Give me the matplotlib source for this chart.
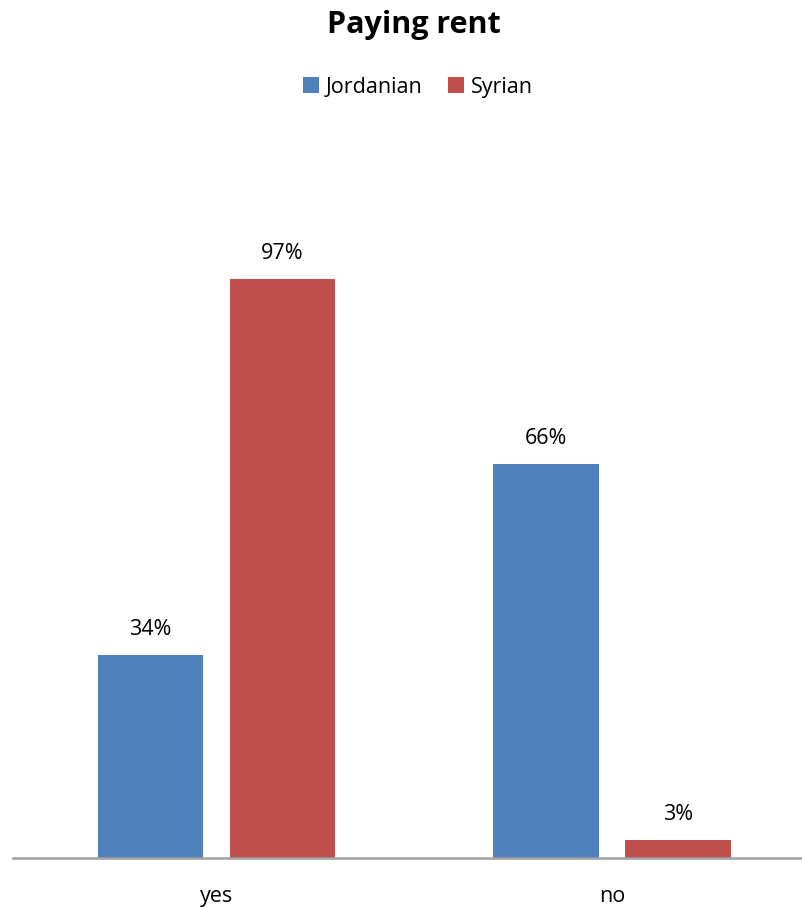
import numpy as np
import matplotlib
matplotlib.use("Agg")
import matplotlib.pyplot as plt
from matplotlib.patches import Patch

# ── Data ──────────────────────────────────────────────────────────────────────
categories = ["yes", "no"]
series_names = ["Jordanian", "Syrian"]
jordanian = [34, 66]
syrian = [97, 3]
colors = ["#4F81BD", "#C0504D"]

plt.rcParams["font.family"] = ["Open Sans", "DejaVu Sans"]

fig = plt.figure(figsize=(8.03, 9.07), dpi=100)
ax = fig.add_axes([13 / 803, 49 / 907, 790 / 803, 716 / 907])

x = np.arange(len(categories))
width = 0.266
offset = 0.167

for vals, name, c, sgn in zip([jordanian, syrian], series_names, colors, [-1, 1]):
    bars = ax.bar(x + sgn * offset, vals, width, color=c, label=name, zorder=2)
    for b, v in zip(bars, vals):
        ax.annotate(f"{v}%", (b.get_x() + b.get_width() / 2, v),
                    xytext=(0, 11), textcoords="offset points",
                    ha="center", va="bottom", fontsize=15.5)

ax.set_xlim(-0.5146, 1.4829)
ax.set_ylim(0, 120)
ax.set_xticks(x)
ax.set_xticklabels(categories, fontsize=15.5)
ax.tick_params(axis="x", length=0, pad=20)
ax.set_yticks([])
for s in ["top", "right", "left"]:
    ax.spines[s].set_visible(False)
ax.spines["bottom"].set_color("#A0A0A0")
ax.spines["bottom"].set_linewidth(1.8)

fig.text(0.515, 0.989, "Paying rent", ha="center", va="top",
         fontsize=22, fontweight="bold")

handles = [Patch(facecolor=c) for c in colors]
fig.legend(handles, series_names, loc="center", bbox_to_anchor=(0.52, 0.904),
           ncol=2, frameon=False, fontsize=15.5, handlelength=0.75,
           handleheight=0.75, handletextpad=0.3, columnspacing=1.2)

fig.savefig("out.png", dpi=100)
